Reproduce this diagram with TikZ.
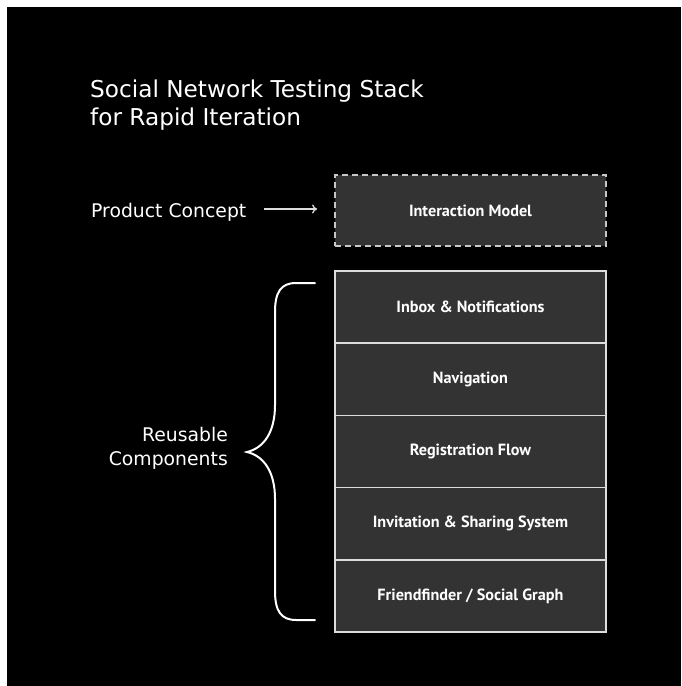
\documentclass[tikz,border=0pt]{standalone}
\usepackage{fontspec}
\setmainfont{DejaVu Sans}
\newfontfamily\boxfont{PT Sans}
\usetikzlibrary{arrows.meta}
\definecolor{boxfill}{HTML}{333333}
\definecolor{edgecol}{HTML}{DDDDDD}
\definecolor{dashcol}{HTML}{C8C8C8}
\begin{document}
\begin{tikzpicture}[x=1pt,y=-1pt,
  layerbox/.style={draw=edgecol, line width=1.5pt, fill=boxfill, minimum width=271pt,
    minimum height=72.2pt, text=white, inner sep=0pt,
    font=\boxfont\bfseries\fontsize{16.2}{19}\selectfont},
  conceptbox/.style={layerbox, draw=dashcol, line width=1.8pt, dash pattern=on 6pt off 4pt, minimum height=71pt},
  label/.style={text=white, inner sep=0pt, font=\fontsize{18.8}{24}\selectfont},
  titletext/.style={text=white, inner sep=0pt, align=left, font=\fontsize{23.2}{28}\selectfont},
  flow/.style={draw=edgecol, line width=1.3pt, -{To[length=5pt,width=9pt]}},
  bracket/.style={draw=white, line width=2pt, line cap=round}]
\fill[white] (0,0) rectangle (681,686);
\fill[black] (7,7) rectangle (681,686);
\useasboundingbox (0,0) rectangle (681,686);

\node[titletext, anchor=north west] (title) at (90,79.5) {Social Network Testing Stack\\for Rapid Iteration};

\node[conceptbox] (im) at (470.5,210.5) {Interaction Model};
\node[label, anchor=base west] (pc) at (91,217) {Product Concept};
\draw[flow] ([xshift=17pt]pc.east |- 0,209) -- ([xshift=-17pt]im.west |- 0,209);

\node[layerbox] (l1) at (470.5,307.1) {Inbox \& Notifications};
\node[layerbox] (l2) at (470.5,379.3) {Navigation};
\node[layerbox] (l3) at (470.5,451.5) {Registration Flow};
\node[layerbox] (l4) at (470.5,523.7) {Invitation \& Sharing System};
\node[layerbox] (l5) at (470.5,595.9) {Friendfinder / Social Graph};

\coordinate (btop) at (315,283);
\coordinate (btip) at (247,452);
\coordinate (bbot) at (315,620);
\draw[bracket] (btop) -- (296,283) .. controls (281,283) and (275,292) .. (275,312)
  -- (275,405) .. controls (275,432) and (264,448) .. (btip)
  .. controls (264,456) and (275,472) .. (275,499)
  -- (275,591) .. controls (275,611) and (281,620) .. (296,620) -- (bbot);

\node[label, align=right, anchor=north east] (rc) at (228,427.5) {Reusable\\Components};
\end{tikzpicture}
\end{document}
